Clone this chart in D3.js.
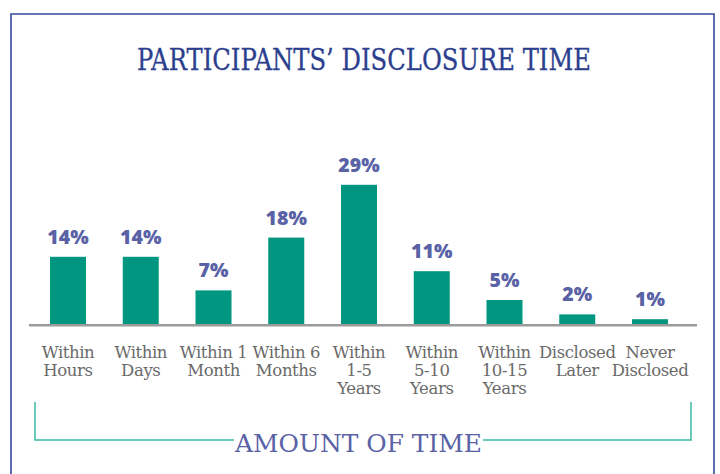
<!DOCTYPE html>
<html>
<head>
<meta charset="utf-8">
<script src="https://cdn.jsdelivr.net/npm/d3@7"></script>
<style>
  html, body { margin: 0; padding: 0; background: #ffffff; }
  svg { display: block; }
</style>
</head>
<body>
<svg id="chart" width="720" height="474"></svg>
<script>
const categories = [
  "Within\nHours", "Within\nDays", "Within 1\nMonth", "Within 6\nMonths",
  "Within\n1-5\nYears", "Within\n5-10\nYears", "Within\n10-15\nYears",
  "Disclosed\nLater", "Never\nDisclosed"
];
const values = [14, 14, 7, 18, 29, 11, 5, 2, 1];
const valueLabels = ["14%", "14%", "7%", "18%", "29%", "11%", "5%", "2%", "1%"];
const titleText = "PARTICIPANTS\u2019 DISCLOSURE TIME";
const axisTitle = "AMOUNT OF TIME";

const svg = d3.select("#chart");
const barColor = "#00967f";
const labelColor = "#5a62a6";
const catColor = "#6a6a6a";

// frame
svg.append("path")
  .attr("d", "M11,480 V14 H714 V480")
  .attr("fill", "none")
  .attr("stroke", "#34499b")
  .attr("stroke-width", 1.6);

// title
svg.append("text")
  .attr("x", 364).attr("y", 70)
  .attr("text-anchor", "middle")
  .attr("font-family", "DejaVu Serif")
  .attr("font-size", 29)
  .attr("textLength", 454)
  .attr("lengthAdjust", "spacingAndGlyphs")
  .attr("fill", "#2c3f8e")
  .attr("stroke", "#2c3f8e")
  .attr("stroke-width", 0.3)
  .text(titleText);

const x = d3.scalePoint().domain(categories).range([68, 650]);
const y = d3.scaleLinear().domain([0, 30]).range([324, 180]);
const barW = 36;

// bars
svg.selectAll("rect.bar").data(values).join("rect")
  .attr("class", "bar")
  .attr("x", (d, i) => x(categories[i]) - barW / 2)
  .attr("y", d => y(d))
  .attr("width", barW)
  .attr("height", d => y(0) - y(d))
  .attr("fill", barColor);

// baseline axis
const axisG = svg.append("g").attr("transform", `translate(0,${y(0) + 1.3})`);
axisG.call(d3.axisBottom(x).tickSize(0).tickFormat(""));
axisG.select(".domain")
  .attr("d", "M29,0H697")
  .attr("stroke", "#9b9b9b")
  .attr("stroke-width", 2.6);

// value labels
svg.selectAll("text.val").data(values).join("text")
  .attr("class", "val")
  .attr("x", (d, i) => x(categories[i]))
  .attr("y", d => y(d) - 13)
  .attr("text-anchor", "middle")
  .attr("font-family", "Open Sans")
  .attr("font-weight", 800)
  .attr("font-size", 19.5)
  .attr("fill", labelColor)
  .text((d, i) => valueLabels[i]);

// category labels
const catG = svg.append("g");
categories.forEach((c, i) => {
  const t = catG.append("text")
    .attr("x", x(c))
    .attr("y", 358)
    .attr("text-anchor", "middle")
    .attr("font-family", "DejaVu Serif")
    .attr("font-size", 16.5)
    .attr("letter-spacing", -0.4)
    .attr("fill", catColor);
  c.split("\n").forEach((line, j) => {
    t.append("tspan").attr("x", x(c)).attr("dy", j === 0 ? 0 : 18).text(line);
  });
});

// bottom bracket
const bracketColor = "#3ab8a3";
svg.append("path")
  .attr("d", "M35,402 V440 H234")
  .attr("fill", "none").attr("stroke", bracketColor).attr("stroke-width", 1.5);
svg.append("path")
  .attr("d", "M483,440 H691 V402")
  .attr("fill", "none").attr("stroke", bracketColor).attr("stroke-width", 1.5);
svg.append("text")
  .attr("x", 358.5).attr("y", 452)
  .attr("text-anchor", "middle")
  .attr("font-family", "DejaVu Serif")
  .attr("font-size", 25)
  .attr("textLength", 247)
  .attr("lengthAdjust", "spacingAndGlyphs")
  .attr("fill", labelColor)
  .text(axisTitle);
</script>
</body>
</html>
